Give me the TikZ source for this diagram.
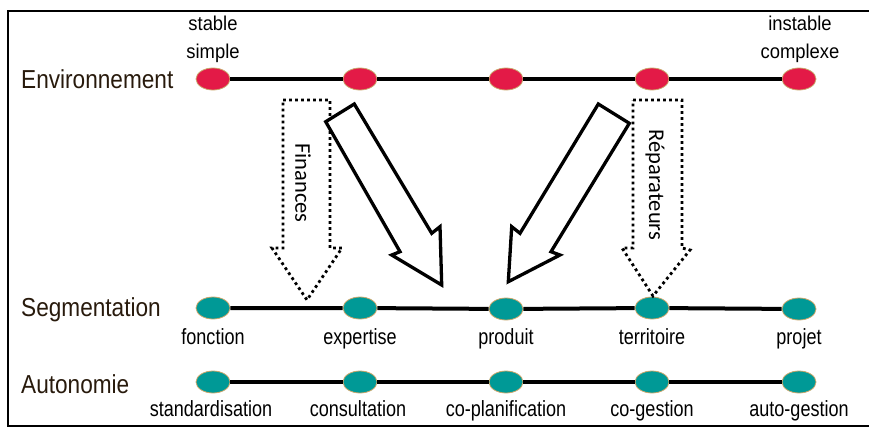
\documentclass[tikz,border=0pt]{standalone}
\usepackage{fontspec}
\setmainfont{Liberation Sans}
\newfontfamily\rowfont{Liberation Sans}[FakeStretch=0.87]
\newfontfamily\labfont{Liberation Sans}[FakeStretch=0.82]
\newfontfamily\topfont{Liberation Sans}[FakeStretch=0.92]
\newfontfamily\arrfont{Carlito}
\usetikzlibrary{shapes.geometric}
\definecolor{envred}{RGB}{227,26,71}
\definecolor{segteal}{RGB}{0,153,150}
\definecolor{rim}{RGB}{201,166,107}
\definecolor{titlebrown}{RGB}{40,26,12}
\begin{document}
\begin{tikzpicture}[x=1pt,y=-1pt,
  dot/.style={ellipse,draw=rim,line width=0.8pt,minimum width=34pt,minimum height=22pt,inner sep=0pt},
  envdot/.style={dot,fill=envred},
  tealdot/.style={dot,fill=segteal},
  rowtitle/.style={anchor=base west,inner sep=0pt,text=titlebrown,font=\rowfont\fontsize{26}{30}\selectfont},
  lab/.style={anchor=base,inner sep=0pt,font=\labfont\fontsize{22}{26}\selectfont},
  toplab/.style={anchor=base,inner sep=0pt,font=\topfont\fontsize{20}{24}\selectfont},
  axisline/.style={line width=4pt},
  blockarrow/.style={draw,line width=3.3pt,line join=miter,fill=white},
  dotarrow/.style={draw,line width=2.8pt,dash pattern=on 2.8pt off 3.2pt,fill=white},
  arrlabel/.style={rotate=-90,inner sep=0pt,font=\arrfont\fontsize{22.5}{26}\selectfont}
]
\useasboundingbox (0,0) rectangle (869,428);
\draw[line width=2pt] (872,11) -- (8,11) -- (8,426) -- (872,426);

% row titles
\node[rowtitle] (tenv) at (21,88) {Environnement};
\node[rowtitle] (tseg) at (21,316) {Segmentation};
\node[rowtitle] (taut) at (21,393) {Autonomie};

% Environnement row
\node[envdot] (e1) at (213,79) {};
\node[envdot] (e2) at (360,79) {};
\node[envdot] (e3) at (506,79) {};
\node[envdot] (e4) at (652,79) {};
\node[envdot] (e5) at (799,79) {};
\draw[axisline] (e1) -- (e2) -- (e3) -- (e4) -- (e5);
\node[toplab] (st1) at (213,31) {stable};
\node[toplab] (st2) at (213,59) {simple};
\node[toplab] (in1) at (800,31) {instable};
\node[toplab] (in2) at (800,59) {complexe};

% Segmentation row
\node[tealdot] (s1) at (213,308) {};
\node[tealdot] (s2) at (360,308) {};
\node[tealdot] (s3) at (506,309) {};
\node[tealdot] (s4) at (652,308) {};
\node[tealdot] (s5) at (799,309) {};
\draw[axisline] (s1) -- (s2) -- (s3) -- (s4) -- (s5);
\node[lab] (l1) at (213,344) {fonction};
\node[lab] (l2) at (360,344) {expertise};
\node[lab] (l3) at (506,344) {produit};
\node[lab] (l4) at (652,344) {territoire};
\node[lab] (l5) at (799,344) {projet};

% Autonomie row
\node[tealdot] (a1) at (213,382) {};
\node[tealdot] (a2) at (360,382) {};
\node[tealdot] (a3) at (506,382) {};
\node[tealdot] (a4) at (652,382) {};
\node[tealdot] (a5) at (799,382) {};
\draw[axisline] (a1) -- (a2) -- (a3) -- (a4) -- (a5);
\node[lab] (m1) at (211,416) {standardisation};
\node[lab] (m2) at (358,416) {consultation};
\node[lab] (m3) at (506,416) {co-planification};
\node[lab] (m4) at (652,416) {co-gestion};
\node[lab] (m5) at (799,416) {auto-gestion};

% dotted arrows
\path[dotarrow] (283,100) -- (330,100) -- (330,248) -- (342,248) -- (307,300) -- (272,248) -- (283,248) -- cycle;
\node[arrlabel] (fin) at (303,183) {Finances};
\path[dotarrow] (633,100) -- (682,100) -- (682,248) -- (690,250) -- (653,296) -- (622,248) -- (633,248) -- cycle;
\node[arrlabel] (rep) at (655,185) {Réparateurs};

% solid block arrows
\path[blockarrow] (354.3,104) -- (431.7,233.3) -- (440,226.7) -- (441.7,285) -- (391.7,255) -- (400,251.7) -- (325.7,121.7) -- cycle;
\path[blockarrow] (598.3,104) -- (629.3,123.3) -- (551,251.7) -- (560,255) -- (508.3,281.7) -- (511.7,226.7) -- (520,233.3) -- cycle;
\end{tikzpicture}
\end{document}
